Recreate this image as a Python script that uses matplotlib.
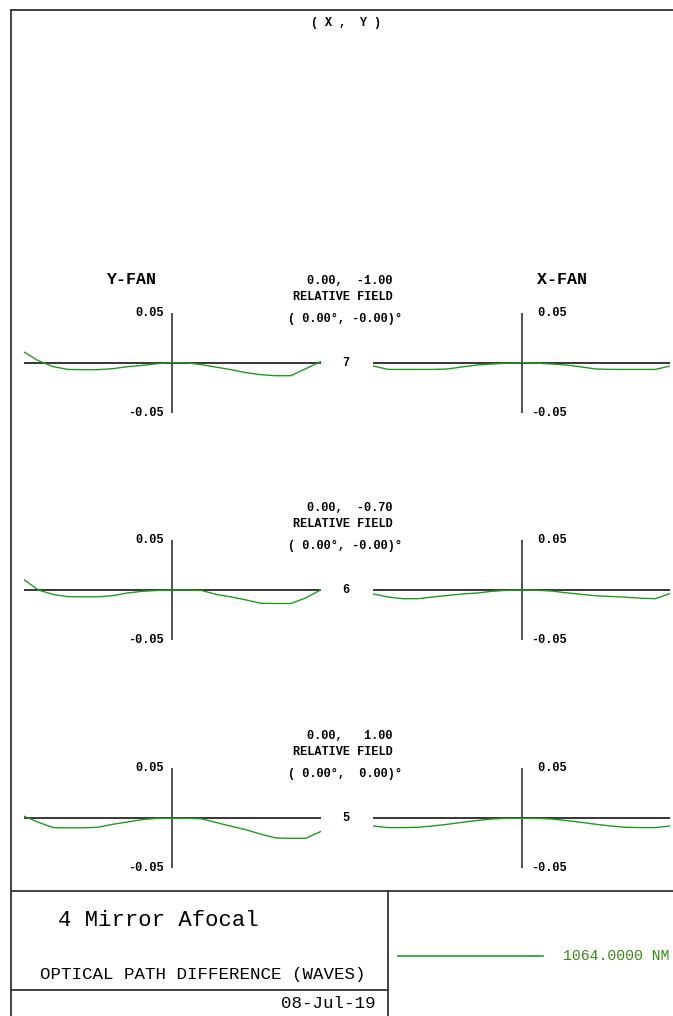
import matplotlib.pyplot as plt
import numpy as np

# pupil coordinate grid shared by all fans
pupil = [-1.0, -0.9, -0.8, -0.7, -0.6, -0.5, -0.4, -0.3, -0.2, -0.1, 0.0,
         0.1, 0.2, 0.3, 0.4, 0.5, 0.6, 0.7, 0.8, 0.9, 1.0]

# OPD in waves (field 7 / 6 / 5)
yfan_7 = [0.011, 0.002, -0.004, -0.0067, -0.007, -0.007, -0.006, -0.004, -0.0027, -0.001, 0.0,
          0.0, -0.002, -0.0045, -0.007, -0.010, -0.012, -0.013, -0.013, -0.006, 0.001]
xfan_7 = [-0.0033, -0.0067, -0.0067, -0.0067, -0.0067, -0.0063, -0.0042, -0.0023, -0.0013, -0.0005, 0.0,
          -0.0005, -0.0013, -0.0023, -0.0042, -0.0063, -0.0067, -0.0067, -0.0067, -0.0067, -0.0033]
yfan_6 = [0.0107, 0.0, -0.0045, -0.0067, -0.0068, -0.0068, -0.0057, -0.003, -0.0013, -0.0005, 0.0,
          0.0, -0.0005, -0.0045, -0.007, -0.010, -0.0133, -0.0135, -0.0135, -0.008, 0.0]
xfan_6 = [-0.004, -0.007, -0.0087, -0.0087, -0.007, -0.0055, -0.004, -0.003, -0.0013, -0.0003, 0.0,
          -0.0003, -0.001, -0.0028, -0.0043, -0.0058, -0.0065, -0.0072, -0.0082, -0.0087, -0.0035]
yfan_5 = [0.0023, -0.004, -0.0093, -0.0095, -0.0095, -0.009, -0.006, -0.0037, -0.0013, 0.0, 0.0,
          0.0, -0.0005, -0.0043, -0.008, -0.0115, -0.016, -0.0197, -0.020, -0.020, -0.0133]
xfan_5 = [-0.0077, -0.0093, -0.0093, -0.009, -0.0077, -0.006, -0.004, -0.0022, -0.0007, 0.0, 0.0,
          0.0, -0.0007, -0.0022, -0.004, -0.006, -0.0077, -0.009, -0.0093, -0.0093, -0.0077]

field_ids = ['7', '6', '5']
rel_field = [-1.00, -0.70, 1.00]
field_angle = ['( 0.00\u00b0, -0.00)\u00b0', '( 0.00\u00b0, -0.00)\u00b0', '( 0.00\u00b0,  0.00)\u00b0']
yfans = [yfan_7, yfan_6, yfan_5]
xfans = [xfan_7, xfan_6, xfan_5]
scale_max = 0.05
wavelength = '1064.0000 NM'

W, H = 673, 1016
green = '#229a22'
edge = '#333333'
mono = 'Liberation Mono'

fig = plt.figure(figsize=(W / 100, H / 100), dpi=100)
bg = fig.add_axes([0, 0, 1, 1])
bg.set_xlim(0, W)
bg.set_ylim(H, 0)
bg.axis('off')

# frame
bg.plot([11, W], [10, 10], color=edge, lw=1.3)
bg.plot([11, 11], [10, H], color=edge, lw=1.3)
bg.plot([11, W], [891, 891], color=edge, lw=1.3)
bg.plot([388, 388], [891, H], color=edge, lw=1.3)
bg.plot([11, 388], [990, 990], color=edge, lw=1.3)

bg.text(346, 23, '( X ,  Y )', fontsize=8.5, family=mono, weight='bold', ha='center', va='center')
bg.text(131, 280, 'Y-FAN', fontsize=12, family=mono, weight='bold', ha='center', va='center')
bg.text(562, 280, 'X-FAN', fontsize=12, family=mono, weight='bold', ha='center', va='center')

row_cy = [362.7, 590, 818.3]
half_w = 148.5


def panel(cx, cy):
    ax = fig.add_axes([(cx - half_w) / W, 1 - (cy + 50) / H, 2 * half_w / W, 100 / H])
    ax.set_xlim(-1, 1)
    ax.set_ylim(-scale_max, scale_max)
    ax.axis('off')
    ax.axhline(0, color='black', lw=1.1)
    ax.axvline(0, color='#222222', lw=1.1)
    return ax


for i, cy in enumerate(row_cy):
    ay = panel(172, cy)
    ay.plot(pupil, yfans[i], color=green, lw=1.0)
    ax = panel(521.7, cy)
    ax.plot(pupil, xfans[i], color=green, lw=1.0)

    kw = dict(fontsize=8.6, family=mono, weight='bold', va='center')
    bg.text(164, cy - 50, '%.2f' % scale_max, ha='right', **kw)
    bg.text(164, cy + 50, '%.2f' % -scale_max, ha='right', **kw)
    bg.text(567, cy - 50, ' %.2f' % scale_max, ha='right', **kw)
    bg.text(567, cy + 50, '%.2f' % -scale_max, ha='right', **kw)
    bg.text(307, cy - 82, '0.00,  %5.2f' % rel_field[i], ha='left', **kw)
    bg.text(342.5, cy - 66, 'RELATIVE FIELD', ha='center', **kw)
    bg.text(288, cy - 44, field_angle[i], ha='left', **kw)
    bg.text(346, cy, field_ids[i], ha='center', **kw)

# title block
bg.text(58, 920, '4 Mirror Afocal', fontsize=16, family=mono, ha='left', va='center')
bg.text(40, 975, 'OPTICAL PATH DIFFERENCE (WAVES)', fontsize=12.6, family=mono, ha='left', va='center')
bg.text(376, 1003, '08-Jul-19', fontsize=12.6, family=mono, ha='right', va='center')
bg.plot([398, 543], [956, 956], color=green, lw=1.2)
bg.text(563, 956, wavelength, fontsize=10.6, family=mono, color='#3a8a1a', ha='left', va='center')

plt.savefig('out.png', dpi=100)
